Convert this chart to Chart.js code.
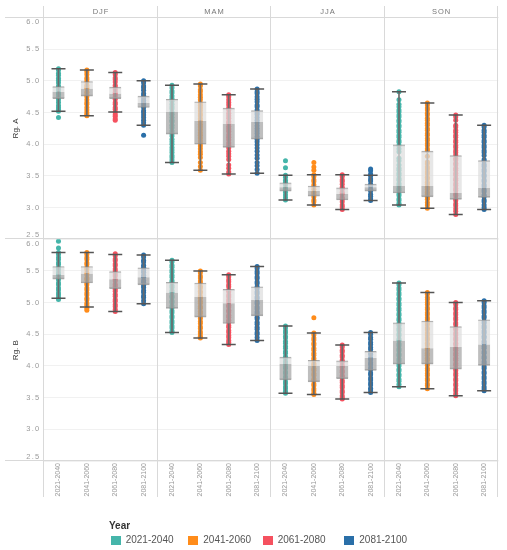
<!DOCTYPE html>
<html><head><meta charset="utf-8">
<script src="https://cdn.jsdelivr.net/npm/chart.js@4.4.1/dist/chart.umd.min.js"></script>
<style>
html,body{margin:0;padding:0;background:#fff;}
#wrap{position:relative;width:507px;height:550px;}
#legend{position:absolute;left:0;top:0;width:507px;height:550px;pointer-events:none;font-family:'Liberation Sans',Arial,sans-serif;}
.lg-title{position:absolute;font-weight:bold;font-size:10px;color:#333;}
.lg-sw{position:absolute;width:10px;height:9px;}
.lg-tx{position:absolute;font-size:10px;color:#555;}
</style></head><body>
<div id="wrap"><canvas id="c"></canvas><div id="legend"></div></div>
<script>
const seasons = ['DJF','MAM','JJA','SON'];
const periods = ['2021-2040','2041-2060','2061-2080','2081-2100'];
const colors = ['#45b5aa','#ff8c1a','#f5515f','#2a6fa8'];
const rowTitles = ['Rg. A','Rg. B'];

// Box stats per period: [lower whisker, Q1, median, Q3, upper whisker]
const A_DJF_box = [[4.52,4.72,4.83,4.91,5.19],[4.45,4.76,4.88,4.99,5.17],[4.51,4.72,4.80,4.90,5.13],[4.30,4.58,4.65,4.76,5.00]];
const A_MAM_box = [[3.71,4.16,4.51,4.71,4.93],[3.59,4.00,4.37,4.67,4.95],[3.53,3.95,4.32,4.57,4.78],[3.54,4.08,4.35,4.53,4.87]];
const A_JJA_box = [[3.12,3.26,3.32,3.39,3.51],[3.04,3.18,3.26,3.34,3.52],[2.97,3.12,3.22,3.31,3.52],[3.11,3.26,3.32,3.37,3.51]];
const A_SON_box = [[3.04,3.23,3.34,3.99,4.83],[2.99,3.17,3.34,3.89,4.65],[2.89,3.13,3.23,3.82,4.46],[2.97,3.16,3.31,3.74,4.30]];
const B_DJF_box = [[5.07,5.37,5.44,5.57,5.79],[4.93,5.31,5.46,5.57,5.79],[4.86,5.22,5.37,5.49,5.76],[4.98,5.28,5.40,5.55,5.75]];
const B_MAM_box = [[4.53,4.91,5.16,5.32,5.67],[4.44,4.77,5.09,5.31,5.50],[4.34,4.67,4.99,5.21,5.44],[4.40,4.79,5.04,5.25,5.57]];
const B_JJA_box = [[3.57,3.78,4.03,4.14,4.63],[3.55,3.75,4.00,4.09,4.52],[3.48,3.80,4.00,4.08,4.33],[3.58,3.93,4.13,4.23,4.53]];
const B_SON_box = [[3.67,4.03,4.40,4.68,5.31],[3.64,4.03,4.28,4.71,5.16],[3.53,3.95,4.30,4.62,5.00],[3.61,4.01,4.34,4.73,5.03]];

// Individual points per period
const A_DJF_dots = [
 [5.19,5.17,5.12,5.09,5.04,5.01,4.97,4.92,4.89,4.86,4.81,4.78,4.74,4.70,4.66,4.61,4.58,4.55,4.52,4.42],
 [5.17,5.14,5.10,5.05,5.02,4.98,4.93,4.90,4.87,4.82,4.78,4.75,4.70,4.66,4.63,4.58,4.54,4.50,4.47,4.45],
 [5.13,5.10,5.05,5.02,4.98,4.93,4.90,4.86,4.82,4.79,4.75,4.71,4.66,4.63,4.58,4.55,4.51,4.47,4.44,4.40,4.38],
 [5.00,4.97,4.92,4.89,4.85,4.80,4.77,4.73,4.69,4.66,4.62,4.58,4.53,4.50,4.46,4.42,4.38,4.34,4.30,4.14]];
const A_MAM_dots = [
 [4.93,4.89,4.84,4.81,4.76,4.72,4.68,4.63,4.59,4.56,4.51,4.47,4.42,4.38,4.35,4.30,4.26,4.21,4.17,4.13,4.08,4.04,4.00,3.95,3.91,3.87,3.82,3.79,3.75,3.71],
 [4.95,4.92,4.86,4.83,4.78,4.74,4.70,4.65,4.61,4.57,4.53,4.48,4.45,4.40,4.36,4.31,4.27,4.23,4.18,4.14,4.10,4.05,4.01,3.97,3.93,3.88,3.84,3.79,3.71,3.65,3.59],
 [4.78,4.75,4.70,4.66,4.62,4.57,4.54,4.49,4.45,4.41,4.36,4.33,4.28,4.24,4.20,4.15,4.11,4.07,4.02,3.98,3.94,3.89,3.85,3.81,3.76,3.67,3.62,3.56,3.53],
 [4.87,4.83,4.80,4.75,4.71,4.67,4.62,4.59,4.54,4.50,4.47,4.42,4.38,4.34,4.29,4.25,4.21,4.17,4.12,4.08,4.04,3.99,3.94,3.89,3.83,3.78,3.71,3.66,3.60,3.54]];
const A_JJA_dots = [
 [3.74,3.63,3.51,3.48,3.43,3.40,3.36,3.31,3.28,3.24,3.20,3.16,3.12],
 [3.71,3.64,3.59,3.52,3.49,3.44,3.41,3.36,3.33,3.29,3.24,3.21,3.17,3.12,3.09,3.04],
 [3.52,3.49,3.44,3.41,3.37,3.32,3.29,3.24,3.21,3.16,3.13,3.09,3.04,3.01,2.97],
 [3.61,3.58,3.53,3.50,3.45,3.42,3.37,3.34,3.29,3.26,3.21,3.18,3.14,3.11]];
const A_SON_dots = [
 [4.83,4.70,4.63,4.59,4.54,4.51,4.46,4.43,4.38,4.35,4.30,4.27,4.22,4.19,4.14,4.11,4.06,4.03,3.98,3.93,3.88,3.78,3.74,3.67,3.62,3.59,3.54,3.51,3.46,3.43,3.38,3.35,3.30,3.27,3.22,3.19,3.14,3.11,3.07,3.04],
 [4.65,4.62,4.57,4.54,4.49,4.46,4.41,4.38,4.33,4.30,4.25,4.22,4.17,4.14,4.09,4.06,4.01,3.98,3.93,3.90,3.81,3.72,3.69,3.64,3.61,3.56,3.53,3.48,3.45,3.40,3.37,3.32,3.29,3.24,3.21,3.16,3.13,3.08,3.04,2.99],
 [4.46,4.43,4.38,4.30,4.27,4.22,4.19,4.14,4.11,4.06,4.03,3.98,3.95,3.90,3.87,3.83,3.78,3.75,3.70,3.67,3.62,3.59,3.54,3.51,3.46,3.43,3.38,3.35,3.30,3.27,3.22,3.19,3.14,3.11,3.06,3.03,2.98,2.94,2.89],
 [4.30,4.27,4.22,4.19,4.14,4.11,4.06,4.03,3.98,3.95,3.90,3.87,3.82,3.76,3.73,3.68,3.65,3.60,3.57,3.52,3.49,3.44,3.41,3.36,3.33,3.28,3.25,3.20,3.17,3.12,3.09,3.04,3.00,2.97]];
const B_DJF_dots = [
 [5.97,5.86,5.79,5.76,5.71,5.68,5.63,5.60,5.55,5.52,5.47,5.44,5.39,5.36,5.31,5.28,5.23,5.20,5.15,5.12,5.08,5.05],
 [5.79,5.76,5.71,5.68,5.63,5.60,5.55,5.52,5.47,5.44,5.39,5.36,5.31,5.28,5.23,5.20,5.15,5.12,5.07,5.04,4.99,4.96,4.91,4.88],
 [5.77,5.74,5.69,5.66,5.61,5.58,5.53,5.50,5.45,5.42,5.37,5.34,5.29,5.26,5.21,5.18,5.13,5.10,5.05,5.02,4.97,4.94,4.89,4.86],
 [5.75,5.72,5.67,5.64,5.59,5.56,5.51,5.48,5.43,5.40,5.35,5.32,5.27,5.24,5.19,5.16,5.11,5.08,5.03,4.98]];
const B_MAM_dots = [
 [5.67,5.64,5.59,5.56,5.51,5.48,5.43,5.40,5.35,5.32,5.27,5.24,5.19,5.16,5.11,5.08,5.03,5.00,4.95,4.92,4.87,4.84,4.79,4.76,4.71,4.68,4.63,4.60,4.55,4.53],
 [5.50,5.47,5.42,5.39,5.34,5.31,5.26,5.23,5.18,5.15,5.10,5.07,5.02,4.99,4.94,4.91,4.86,4.83,4.78,4.75,4.70,4.67,4.62,4.59,4.54,4.51,4.47,4.44],
 [5.44,5.41,5.36,5.33,5.28,5.25,5.20,5.17,5.12,5.09,5.04,5.01,4.96,4.93,4.88,4.85,4.80,4.77,4.72,4.69,4.64,4.61,4.56,4.53,4.48,4.45,4.40,4.37,4.34],
 [5.57,5.54,5.49,5.46,5.41,5.38,5.33,5.30,5.25,5.22,5.17,5.14,5.09,5.06,5.01,4.98,4.93,4.90,4.85,4.82,4.77,4.74,4.69,4.66,4.61,4.58,4.53,4.50,4.45,4.40]];
const B_JJA_dots = [
 [4.63,4.60,4.55,4.52,4.47,4.44,4.39,4.36,4.31,4.28,4.23,4.20,4.15,4.12,4.07,4.04,3.99,3.96,3.91,3.88,3.83,3.80,3.75,3.72,3.67,3.64,3.60,3.57],
 [4.76,4.52,4.49,4.44,4.41,4.36,4.33,4.28,4.25,4.20,4.17,4.12,4.09,4.04,4.01,3.96,3.93,3.88,3.85,3.80,3.77,3.72,3.69,3.64,3.61,3.57,3.55],
 [4.33,4.30,4.25,4.22,4.17,4.14,4.09,4.06,4.01,3.98,3.93,3.90,3.85,3.82,3.77,3.74,3.69,3.66,3.61,3.58,3.53,3.50,3.48],
 [4.53,4.50,4.45,4.42,4.37,4.34,4.29,4.26,4.21,4.18,4.13,4.10,4.05,4.02,3.97,3.94,3.89,3.86,3.81,3.78,3.73,3.70,3.65,3.62,3.58]];
const B_SON_dots = [
 [5.31,5.28,5.23,5.20,5.15,5.12,5.07,5.04,4.99,4.96,4.91,4.88,4.83,4.80,4.75,4.72,4.67,4.64,4.59,4.56,4.51,4.48,4.43,4.40,4.35,4.32,4.27,4.24,4.19,4.16,4.11,4.08,4.03,4.00,3.95,3.92,3.87,3.84,3.79,3.76,3.71,3.67],
 [5.16,5.13,5.08,5.05,5.00,4.97,4.92,4.89,4.84,4.81,4.76,4.73,4.68,4.65,4.60,4.57,4.52,4.49,4.44,4.41,4.36,4.33,4.28,4.25,4.20,4.17,4.12,4.09,4.04,4.01,3.96,3.93,3.88,3.85,3.80,3.77,3.72,3.69,3.64],
 [5.00,4.97,4.92,4.89,4.84,4.81,4.76,4.73,4.68,4.65,4.60,4.57,4.52,4.49,4.44,4.41,4.36,4.33,4.28,4.25,4.20,4.17,4.12,4.09,4.04,4.01,3.96,3.93,3.88,3.85,3.80,3.77,3.72,3.69,3.64,3.61,3.56,3.53],
 [5.03,5.00,4.95,4.92,4.87,4.84,4.79,4.76,4.71,4.68,4.63,4.60,4.55,4.52,4.47,4.44,4.39,4.36,4.31,4.28,4.23,4.20,4.15,4.12,4.07,4.04,3.99,3.96,3.91,3.88,3.83,3.80,3.75,3.72,3.67,3.64,3.61]];

const yMin = 2.5, yMax = 6.0, yStep = 0.5;

const rowsDef = [
  {axis:'yA', dots:[A_DJF_dots,A_MAM_dots,A_JJA_dots,A_SON_dots], boxes:[A_DJF_box,A_MAM_box,A_JJA_box,A_SON_box]},
  {axis:'yB', dots:[B_DJF_dots,B_MAM_dots,B_JJA_dots,B_SON_dots], boxes:[B_DJF_box,B_MAM_box,B_JJA_box,B_SON_box]}
];
const nP = periods.length, nS = seasons.length;
const xPos = (s,p) => s*nP + p + 0.5;

const datasets = [];
rowsDef.forEach(r => {
  const caps = [], whisk = [], lower = [], upper = [];
  r.boxes.forEach((season, s) => season.forEach((b, p) => {
    const x = xPos(s,p);
    caps.push({x, y:b[0]}, {x, y:b[4]});
    whisk.push({x, y:[b[0], b[4]]});
    lower.push({x, y:[b[1], b[2]]});
    upper.push({x, y:[b[2], b[3]]});
  }));
  datasets.push({type:'scatter', data:caps, yAxisID:r.axis, pointStyle:'line', pointRadius:7,
    pointBorderColor:'#555', pointBorderWidth:1.5, showLine:false, order:0});
  datasets.push({type:'bar', data:upper, yAxisID:r.axis, backgroundColor:'rgba(222,222,222,0.72)',
    borderColor:'rgba(140,140,140,0.75)', borderWidth:{top:1,bottom:0,left:0,right:0}, borderSkipped:false,
    barThickness:12, grouped:false, order:1});
  datasets.push({type:'bar', data:lower, yAxisID:r.axis, backgroundColor:'rgba(165,165,165,0.72)',
    borderColor:'rgba(140,140,140,0.75)', borderWidth:{top:0,bottom:1,left:0,right:0}, borderSkipped:false,
    barThickness:12, grouped:false, order:1});
  datasets.push({type:'bar', data:whisk, yAxisID:r.axis, backgroundColor:'#6a6a6a', borderWidth:0,
    barThickness:1, grouped:false, order:2});
  periods.forEach((per, p) => {
    const pts = [];
    r.dots.forEach((season, s) => season[p].forEach(v => pts.push({x:xPos(s,p), y:v})));
    datasets.push({type:'scatter', label:per, data:pts, yAxisID:r.axis, backgroundColor:colors[p],
      pointRadius:2.5, pointBorderWidth:0, showLine:false, order:3});
  });
});

const frame = {
  id:'frame',
  beforeDatasetsDraw(chart){
    const {ctx, chartArea:a, scales} = chart;
    const x = scales.x;
    ctx.save(); ctx.strokeStyle = '#d9d9d9'; ctx.lineWidth = 1;
    ctx.beginPath();
    for (let i = 0; i <= nS; i++) {
      const px = Math.round(x.getPixelForValue(i*nP)) - 0.5;
      ctx.moveTo(px, 6); ctx.lineTo(px, 497);
    }
    [a.top, scales.yA.bottom, a.bottom].forEach(py => {
      const y = Math.round(py) - 0.5;
      ctx.moveTo(5, y); ctx.lineTo(a.right, y);
    });
    ctx.stroke(); ctx.restore();
  }
};

const tweak = {
  id:'tweak',
  afterUpdate(chart){
    ['yA','yB','xTop'].forEach(id => {
      const s = chart.scales[id];
      if (!s || s.$tw) return;
      s.$tw = true;
      const dl = s.drawLabels;
      s.drawLabels = function(area){
        const c = this.ctx; const prev = c.letterSpacing;
        try { c.letterSpacing = id === 'xTop' ? '1px' : '1.2px'; } catch(e) {}
        dl.call(this, area);
        try { c.letterSpacing = prev || '0px'; } catch(e) {}
      };
      if (id !== 'xTop' && s._computeLabelItems) {
        const cl = s._computeLabelItems;
        s._computeLabelItems = function(area){
          const items = cl.call(this, area);
          if (items.length && items[0].options && items[0].options.translation) {
            items[0].options.translation[1] -= 4;
            items[items.length-1].options.translation[1] += 4.5;
          }
          return items;
        };
      }
      s._labelItems = null;
    });
  }
};

function yScale(title){
  return {
    type:'linear', position:'left', stack:'rows', stackWeight:1, min:yMin, max:yMax, offset:false,
    grid:{color:'#f1f1f1', drawTicks:false}, border:{display:false},
    ticks:{stepSize:yStep, padding:4, color:'#9a9a9a', font:{size:7.5}, callback:v => v.toFixed(1)},
    title:{display:true, text:title, color:'#333', font:{size:8}, padding:{top:11, bottom:0}},
    afterFit: s => { s.width = 44.3; }
  };
}

Chart.defaults.font.family = "'Liberation Sans', Arial, sans-serif";
new Chart(document.getElementById('c'), {
  type:'scatter',
  data:{datasets},
  options:{
    responsive:true, maintainAspectRatio:false, animation:false, events:[],
    layout:{padding:{left:0, right:8.7, top:0, bottom:45}},
    plugins:{legend:{display:false}, tooltip:{enabled:false}},
    scales:{
      x:{type:'linear', position:'bottom', min:0, max:nS*nP, offset:false,
        grid:{display:false, drawTicks:false}, border:{display:false},
        afterBuildTicks: s => { const t=[]; seasons.forEach((_,si)=>periods.forEach((_,p)=>t.push({value:xPos(si,p)}))); s.ticks = t; },
        ticks:{autoSkip:false, minRotation:90, maxRotation:90, padding:2, color:'#999', font:{size:7},
          callback: v => periods[Math.floor(v) % nP]},
        afterFit: s => { s.height = 44; }},
      xTop:{type:'linear', position:'top', min:0, max:nS*nP, offset:false,
        grid:{display:false, drawTicks:false}, border:{display:false},
        afterBuildTicks: s => { s.ticks = seasons.map((_,si)=>({value:si*nP + nP/2})); },
        ticks:{autoSkip:false, maxRotation:0, padding:1, color:'#777', font:{size:7.5},
          callback: v => seasons[Math.floor(v / nP)]},
        afterFit: s => { s.height = 17.5; }},
      yB: yScale(rowTitles[1]),
      yA: yScale(rowTitles[0])
    }
  },
  plugins:[frame, tweak]
});

// HTML legend
const lg = document.getElementById('legend');
const legendLefts = [110.7, 188.3, 262.7, 344.3];
const t = document.createElement('div'); t.className='lg-title'; t.textContent='Year';
t.style.left='109px'; t.style.top='520px'; lg.appendChild(t);
periods.forEach((per,i) => {
  const sw = document.createElement('div'); sw.className='lg-sw';
  sw.style.left = legendLefts[i]+'px'; sw.style.top='535.5px'; sw.style.background = colors[i];
  lg.appendChild(sw);
  const tx = document.createElement('div'); tx.className='lg-tx'; tx.textContent = per;
  tx.style.left = (legendLefts[i]+15)+'px'; tx.style.top='534px';
  lg.appendChild(tx);
});
</script>
</body></html>
